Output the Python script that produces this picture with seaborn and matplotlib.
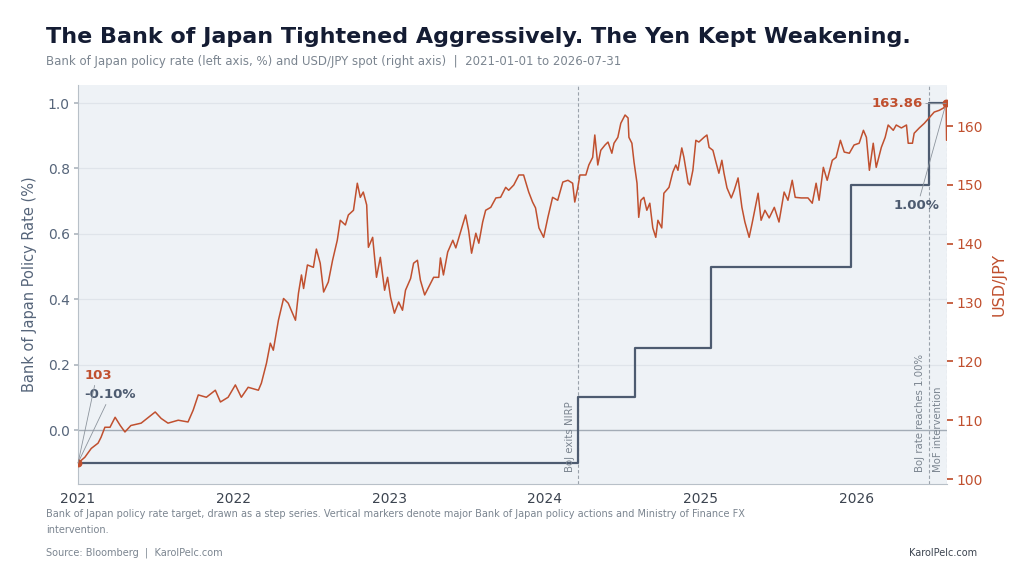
import matplotlib
matplotlib.use("Agg")
import matplotlib.pyplot as plt
import matplotlib.dates as mdates
import seaborn as sns
import pandas as pd

# ---------------- data ----------------
fx_dates = [
    "2021-01-01", "2021-01-17", "2021-02-01", "2021-02-17", "2021-02-24", "2021-03-05", "2021-03-17",
    "2021-03-29", "2021-04-10", "2021-04-21", "2021-05-05", "2021-05-29", "2021-07-01", "2021-07-15",
    "2021-07-31", "2021-08-24", "2021-09-16", "2021-09-28", "2021-10-10", "2021-10-29", "2021-11-19",
    "2021-12-01", "2021-12-19", "2022-01-05", "2022-01-19", "2022-02-04", "2022-02-28", "2022-03-07",
    "2022-03-19", "2022-03-28", "2022-04-04", "2022-04-16", "2022-04-28", "2022-05-09", "2022-05-26",
    "2022-06-02", "2022-06-09", "2022-06-14", "2022-06-23", "2022-07-07", "2022-07-14", "2022-07-23",
    "2022-07-31", "2022-08-11", "2022-08-21", "2022-09-01", "2022-09-08", "2022-09-20", "2022-09-27",
    "2022-10-09", "2022-10-18", "2022-10-25", "2022-11-01", "2022-11-09", "2022-11-13", "2022-11-23",
    "2022-12-02", "2022-12-11", "2022-12-21", "2022-12-28", "2023-01-04", "2023-01-13", "2023-01-23",
    "2023-02-01", "2023-02-08", "2023-02-20", "2023-02-27", "2023-03-08", "2023-03-15", "2023-03-25",
    "2023-04-03", "2023-04-15", "2023-04-27", "2023-05-01", "2023-05-08", "2023-05-18", "2023-05-30",
    "2023-06-06", "2023-06-17", "2023-06-29", "2023-07-06", "2023-07-13", "2023-07-23", "2023-07-30",
    "2023-08-08", "2023-08-15", "2023-08-27", "2023-09-08", "2023-09-19", "2023-10-01", "2023-10-08",
    "2023-10-20", "2023-11-01", "2023-11-12", "2023-11-24", "2023-12-03", "2023-12-10", "2023-12-18",
    "2023-12-29", "2024-01-08", "2024-01-19", "2024-01-31", "2024-02-12", "2024-02-24", "2024-03-06",
    "2024-03-11", "2024-03-18", "2024-03-23", "2024-04-06", "2024-04-13", "2024-04-22", "2024-04-27",
    "2024-05-04", "2024-05-11", "2024-05-21", "2024-05-28", "2024-06-06", "2024-06-11", "2024-06-20",
    "2024-06-27", "2024-07-07", "2024-07-14", "2024-07-16", "2024-07-23", "2024-07-28", "2024-08-04",
    "2024-08-08", "2024-08-13", "2024-08-20", "2024-08-27", "2024-09-03", "2024-09-10", "2024-09-17",
    "2024-09-22", "2024-10-01", "2024-10-06", "2024-10-18", "2024-10-27", "2024-11-03", "2024-11-08",
    "2024-11-17", "2024-11-22", "2024-12-02", "2024-12-06", "2024-12-13", "2024-12-20", "2024-12-27",
    "2025-01-08", "2025-01-15", "2025-01-20", "2025-01-29", "2025-02-05", "2025-02-12", "2025-02-19",
    "2025-02-24", "2025-03-03", "2025-03-13", "2025-03-20", "2025-03-29", "2025-04-07", "2025-04-14",
    "2025-04-24", "2025-05-01", "2025-05-15", "2025-05-22", "2025-05-31", "2025-06-10", "2025-06-22",
    "2025-07-03", "2025-07-15", "2025-07-24", "2025-08-03", "2025-08-10", "2025-08-24", "2025-09-09",
    "2025-09-19", "2025-09-28", "2025-10-05", "2025-10-15", "2025-10-24", "2025-11-05", "2025-11-14",
    "2025-11-24", "2025-12-03", "2025-12-15", "2025-12-26", "2026-01-07", "2026-01-17", "2026-01-24",
    "2026-01-31", "2026-02-09", "2026-02-16", "2026-02-28", "2026-03-09", "2026-03-16", "2026-03-28",
    "2026-04-04", "2026-04-16", "2026-04-28", "2026-05-02", "2026-05-12", "2026-05-16", "2026-05-28",
    "2026-06-09", "2026-06-21", "2026-07-02", "2026-07-14", "2026-07-24", "2026-07-30", "2026-07-31",
]
fx_values = [
    102.7, 103.7, 105.2, 106.1, 107.1, 108.8, 108.8,
    110.5, 109.1, 108.0, 109.1, 109.5, 111.4, 110.3,
    109.5, 110.0, 109.7, 111.7, 114.3, 113.9, 115.1,
    113.1, 113.9, 116.0, 113.9, 115.6, 115.1, 116.3,
    119.7, 123.1, 121.9, 127.0, 130.7, 129.9, 127.0,
    131.6, 134.7, 132.4, 136.4, 136.0, 139.1, 136.7,
    131.8, 133.5, 137.2, 140.6, 144.0, 143.2, 144.9,
    145.7, 150.3, 147.9, 148.8, 146.6, 139.4, 141.1,
    134.3, 137.7, 132.1, 134.3, 130.9, 128.2, 130.1,
    128.7, 132.1, 134.1, 136.7, 137.2, 133.8, 131.3,
    132.6, 134.3, 134.3, 137.6, 134.7, 138.6, 140.6,
    139.3, 142.0, 144.9, 142.3, 138.4, 141.8, 140.1,
    143.7, 145.7, 146.2, 147.8, 147.9, 149.6, 149.1,
    150.0, 151.7, 151.7, 148.8, 147.1, 146.1, 142.7,
    141.1, 144.5, 147.9, 147.4, 150.5, 150.8, 150.3,
    147.1, 149.5, 151.7, 151.7, 153.4, 154.7, 158.5,
    153.4, 155.9, 156.8, 157.3, 155.4, 157.1, 158.1,
    160.5, 161.9, 161.4, 158.1, 157.1, 153.9, 150.3,
    144.5, 147.4, 147.9, 145.7, 146.9, 142.7, 141.1,
    144.0, 142.7, 148.6, 149.6, 152.2, 153.4, 152.5,
    156.3, 154.7, 150.3, 150.0, 152.5, 157.6, 157.3,
    158.1, 158.5, 156.4, 155.9, 153.9, 152.0, 154.2,
    152.0, 149.5, 147.8, 149.1, 151.2, 146.2, 143.7,
    141.1, 143.5, 148.6, 144.0, 145.7, 144.4, 146.2,
    143.7, 148.8, 147.4, 150.8, 147.9, 147.8, 147.8,
    146.9, 150.3, 147.4, 153.0, 150.8, 154.2, 154.7,
    157.6, 155.6, 155.4, 156.8, 157.1, 159.3, 158.1,
    152.5, 157.1, 153.0, 156.4, 158.1, 160.2, 159.3,
    160.2, 159.7, 160.2, 157.1, 157.1, 158.8, 159.7,
    160.5, 161.5, 162.4, 162.7, 163.1, 163.86, 157.6,
]

policy_dates = ["2021-01-01", "2024-03-19", "2024-07-31", "2025-01-24", "2025-12-19", "2026-06-19", "2026-07-31"]
policy_rates = [-0.10, 0.10, 0.25, 0.50, 0.75, 1.00, 1.00]

event_dates = ["2024-03-19", "2026-06-19", "2026-07-31"]
event_labels = ["BoJ exits NIRP", "BoJ rate reaches 1.00%", "MoF intervention"]

left_ticks = [0.0, 0.2, 0.4, 0.6, 0.8, 1.0]
right_ticks = [100, 110, 120, 130, 140, 150, 160]
year_ticks = ["2021-01-01", "2022-01-01", "2023-01-01", "2024-01-01", "2025-01-01", "2026-01-01"]
year_labels = ["2021", "2022", "2023", "2024", "2025", "2026"]

title = "The Bank of Japan Tightened Aggressively. The Yen Kept Weakening."
subtitle = "Bank of Japan policy rate (left axis, %) and USD/JPY spot (right axis)  |  2021-01-01 to 2026-07-31"
note_1 = ("Bank of Japan policy rate target, drawn as a step series. Vertical markers denote major Bank of Japan "
          "policy actions and Ministry of Finance FX")
note_2 = "intervention."
source = "Source: Bloomberg  |  KarolPelc.com"
brand = "KarolPelc.com"

# ---------------- style ----------------
ORANGE = "#c0502f"
SLATE = "#4d5b70"
TICK_SLATE = "#56657a"
GRAY_TXT = "#7b8590"
PANEL = "#eef2f6"
GRID = "#dfe4ea"
TITLE_C = "#141c33"

sns.set_theme(style="white")
plt.rcParams["font.family"] = ["DejaVu Sans"]

fx = pd.DataFrame({"date": pd.to_datetime(fx_dates), "usdjpy": fx_values})
pol = pd.DataFrame({"date": pd.to_datetime(policy_dates), "rate": policy_rates})
ev = pd.to_datetime(event_dates)

fig = plt.figure(figsize=(10.24, 5.76), dpi=100)
fig.patch.set_facecolor("white")
ax = fig.add_axes([0.0762, 0.1597, 0.8486, 0.6927])
ax.set_facecolor(PANEL)
ax2 = ax.twinx()
ax2.patch.set_visible(False)

x_start = pd.Timestamp("2021-01-01")
x_end = pd.Timestamp("2026-08-01")

# grid and zero line
for t in left_ticks[1:]:
    ax.axhline(t, color=GRID, lw=0.9, zorder=0)
ax.axhline(0.0, color="#a3acb6", lw=1.0, zorder=1)

# step series
sns.lineplot(data=pol, x="date", y="rate", ax=ax, drawstyle="steps-post",
             color=SLATE, lw=1.6, estimator=None, zorder=3)

# event markers
for d, lab in zip(ev, event_labels):
    ax.axvline(d, color="#9aa2ab", lw=0.8, ls=(0, (3, 2)), zorder=2)
    ax.annotate(lab, xy=(mdates.date2num(d), 0.03), xycoords=ax.get_xaxis_transform(),
                xytext=(-2.5, 0), textcoords="offset points", rotation=90,
                ha="right", va="bottom", fontsize=7.3, color=GRAY_TXT)

# USD/JPY
sns.lineplot(data=fx, x="date", y="usdjpy", ax=ax2, color=ORANGE, lw=1.1,
             estimator=None, zorder=4)

i_peak = int(fx["usdjpy"].idxmax())
ax2.scatter([fx["date"].iloc[0], fx["date"].iloc[i_peak]],
            [fx["usdjpy"].iloc[0], fx["usdjpy"].iloc[i_peak]],
            s=22, color=ORANGE, zorder=6)

# axes ranges
ax.set_xlim(x_start, x_end)
ax.set_ylim(-0.165, 1.055)
ax2.set_ylim(99.15, 167.0)

ax.set_xticks(pd.to_datetime(year_ticks))
ax.set_xticklabels(year_labels)
ax.set_yticks(left_ticks)
ax.set_yticklabels([f"{v:.1f}" for v in left_ticks])
ax2.set_yticks(right_ticks)
ax2.set_yticklabels([str(v) for v in right_ticks])

ax.tick_params(axis="x", colors="#3c4450", labelsize=10, length=3, color="#b0b8c0", pad=3)
ax.tick_params(axis="y", colors="#b0b8c0", labelcolor=TICK_SLATE, labelsize=10, length=3, pad=3)
ax2.tick_params(axis="y", colors=ORANGE, labelcolor=ORANGE, labelsize=10, length=4, pad=3)

ax.set_xlabel("")
ax.set_ylabel("Bank of Japan Policy Rate (%)", color=TICK_SLATE, fontsize=10.5, labelpad=8)
ax2.set_ylabel("USD/JPY", color=ORANGE, fontsize=11.5, labelpad=6)

for a in (ax, ax2):
    a.spines["top"].set_visible(False)
    a.spines["right"].set_visible(False)
    a.spines["left"].set_color("#b8c0c8")
    a.spines["bottom"].set_color("#b8c0c8")
    a.spines["left"].set_linewidth(0.8)
    a.spines["bottom"].set_linewidth(0.8)
ax2.spines["left"].set_visible(False)
ax2.spines["bottom"].set_visible(False)

# annotations
line_kw = dict(arrowstyle="-", color="#8c949d", lw=0.6, shrinkA=0, shrinkB=0)
ax2.annotate(f"{fx_values[0]:.0f}", xy=(fx["date"].iloc[0], fx_values[0]),
             xytext=(4.5, 63), textcoords="offset points", ha="left", va="center",
             fontsize=9.5, fontweight="bold", color=ORANGE,
             arrowprops=dict(line_kw, relpos=(0.4, 0.0)), zorder=7)
ax.annotate(f"{policy_rates[0]:.2f}%", xy=(pol["date"].iloc[0], policy_rates[0]),
            xytext=(4.5, 49), textcoords="offset points", ha="left", va="center",
            fontsize=9.5, fontweight="bold", color=SLATE,
            arrowprops=dict(line_kw, relpos=(0.45, 0.0)), zorder=7)
ax2.annotate(f"{fx['usdjpy'].iloc[i_peak]:.2f}", xy=(fx["date"].iloc[i_peak], fx["usdjpy"].iloc[i_peak]),
             xytext=(-17, 0), textcoords="offset points", ha="right", va="center",
             fontsize=9.5, fontweight="bold", color=ORANGE,
             arrowprops=dict(line_kw, relpos=(1.0, 0.5)), zorder=7)
ax.annotate(f"{policy_rates[-1]:.2f}%", xy=(fx["date"].iloc[i_peak], policy_rates[-1]),
            xytext=(-21, -74), textcoords="offset points", ha="center", va="center",
            fontsize=9.5, fontweight="bold", color=SLATE,
            arrowprops=dict(line_kw, relpos=(0.55, 1.0)), zorder=7)

# titles and notes
fig.text(46 / 1024, 1 - 37 / 576, title, fontsize=16, fontweight="bold", color=TITLE_C,
         ha="left", va="center")
fig.text(46 / 1024, 1 - 61 / 576, subtitle, fontsize=8.5, color=GRAY_TXT, ha="left", va="center")
fig.text(46 / 1024, 1 - 514 / 576, note_1, fontsize=7.05, color=GRAY_TXT, ha="left", va="center")
fig.text(46 / 1024, 1 - 530 / 576, note_2, fontsize=7.05, color=GRAY_TXT, ha="left", va="center")
fig.text(46 / 1024, 1 - 553 / 576, source, fontsize=7.05, color=GRAY_TXT, ha="left", va="center")
fig.text(977 / 1024, 1 - 553 / 576, brand, fontsize=7.05, color="#3c4450", ha="right", va="center")

fig.savefig("out.png", dpi=100, facecolor="white")
